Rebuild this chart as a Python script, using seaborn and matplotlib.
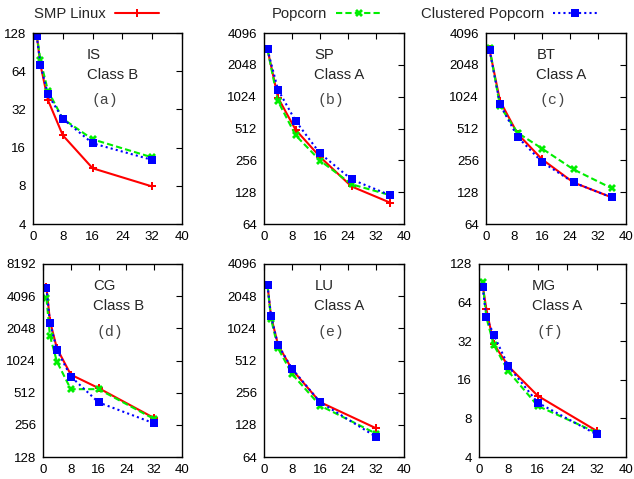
import numpy as np
import pandas as pd
import seaborn as sns
import matplotlib.pyplot as plt

# data
series = ['SMP Linux', 'Popcorn', 'Clustered Popcorn']
x_pow2 = [1, 2, 4, 8, 16, 32]
x_sq = [1, 4, 9, 16, 25, 36]

is_smp = [124, 72, 38, 20, 11, 7.9]
is_pop = [125, 78, 45, 27, 18.6, 13.4]
is_clu = [122, 72, 42, 27, 17.3, 12.8]

sp_smp = [2860, 1002, 500, 276, 145, 102]
sp_pop = [2860, 927, 443, 255, 152, 120]
sp_clu = [2860, 1192, 605, 298, 169, 120]

bt_smp = [2860, 933, 458, 262, 158, 114]
bt_pop = [2985, 834, 467, 331, 210, 139]
bt_clu = [2840, 868, 427, 247, 158, 114]

cg_smp = [4960, 2400, 1330, 755, 565, 296]
cg_pop = [3900, 1740, 1000, 552, 552, 290]
cg_clu = [4880, 2320, 1285, 725, 415, 264]

lu_smp = [2590, 1330, 720, 422, 209, 119]
lu_pop = [2590, 1260, 667, 383, 194, 106]
lu_clu = [2590, 1330, 720, 430, 209, 99]

mg_smp = [87, 57, 30.5, 20.4, 12, 6.4]
mg_pop = [92, 49, 30, 18.6, 10, 6.2]
mg_clu = [84, 49, 36, 20.4, 10.6, 6.0]

panels = [
    ('IS', 'Class B', '(a)', x_pow2, [is_smp, is_pop, is_clu], [4, 8, 16, 32, 64, 128]),
    ('SP', 'Class A', '(b)', x_sq, [sp_smp, sp_pop, sp_clu], [64, 128, 256, 512, 1024, 2048, 4096]),
    ('BT', 'Class A', '(c)', x_sq, [bt_smp, bt_pop, bt_clu], [64, 128, 256, 512, 1024, 2048, 4096]),
    ('CG', 'Class B', '(d)', x_pow2, [cg_smp, cg_pop, cg_clu], [128, 256, 512, 1024, 2048, 4096, 8192]),
    ('LU', 'Class A', '(e)', x_pow2, [lu_smp, lu_pop, lu_clu], [64, 128, 256, 512, 1024, 2048, 4096]),
    ('MG', 'Class A', '(f)', x_pow2, [mg_smp, mg_pop, mg_clu], [4, 8, 16, 32, 64, 128]),
]

sns.set_style('white')
plt.rcParams['font.family'] = ['Liberation Sans', 'DejaVu Sans']

W, H = 634, 479
fig = plt.figure(figsize=(W / 100, H / 100), dpi=100)

# axes boxes in pixels (left, top, right, bottom)
boxes = [
    (33, 33, 182, 224), (264, 33, 404, 224), (486, 33, 626, 224),
    (43, 264, 182, 457), (264, 264, 404, 457), (479, 264, 626, 457),
]

palette = {'SMP Linux': '#ff0000', 'Popcorn': '#00ee00', 'Clustered Popcorn': '#0000ff'}
dashes = {'SMP Linux': '', 'Popcorn': (3, 1.5), 'Clustered Popcorn': (1, 1.5)}
markers = {'SMP Linux': 'P', 'Popcorn': 'X', 'Clustered Popcorn': 's'}

for (name, cls, tag, xs, ys, yt), (l, t, r, b) in zip(panels, boxes):
    ax = fig.add_axes([l / W, 1 - b / H, (r - l) / W, (b - t) / H])
    df = pd.DataFrame({
        'n': xs * 3,
        'time': ys[0] + ys[1] + ys[2],
        'system': sum([[s] * len(xs) for s in series], []),
    })
    sns.lineplot(data=df, x='n', y='time', hue='system', style='system',
                 palette=palette, dashes=dashes, markers=markers,
                 markersize=6, markeredgewidth=0, linewidth=1.5,
                 legend=False, ax=ax)
    ax.set_yscale('log', base=2)
    ax.set_ylim(yt[0], yt[-1])
    ax.set_yticks(yt)
    ax.set_yticklabels([str(v) for v in yt])
    ax.minorticks_off()
    ax.set_xlim(0, 40)
    ax.set_xticks([0, 8, 16, 24, 32, 40])
    ax.set_xlabel('')
    ax.set_ylabel('')
    ax.tick_params(direction='in', top=True, right=True, labelsize=9.5,
                   length=4, width=0.8, pad=5, colors='black')
    for sp in ax.spines.values():
        sp.set_color('black')
        sp.set_linewidth(1.0)
    ax.text(0.36, 0.885, name, transform=ax.transAxes, fontsize=10.7, va='center')
    ax.text(0.36, 0.78, cls, transform=ax.transAxes, fontsize=10.7, va='center')
    ax.text(0.48, 0.65, tag, transform=ax.transAxes, fontsize=10.7, va='center',
            ha='center', family=['Liberation Mono', 'DejaVu Sans Mono'], color='#444444')

# legend entries, text first then sample, like the reference
for s, x0 in zip(series, [34, 272, 421]):
    h = plt.Line2D([], [], color=palette[s], marker=markers[s], markersize=6,
                   markeredgewidth=0, linewidth=1.5,
                   dashes=dashes[s] if dashes[s] else (None, None))
    fig.legend([h], [s], loc='center left', bbox_to_anchor=(x0 / W, 1 - 14 / H),
               frameon=False, markerfirst=False, fontsize=10.7,
               handlelength=3.0, handletextpad=0.6, borderpad=0,
               borderaxespad=0)

fig.savefig('out.png', dpi=100)
